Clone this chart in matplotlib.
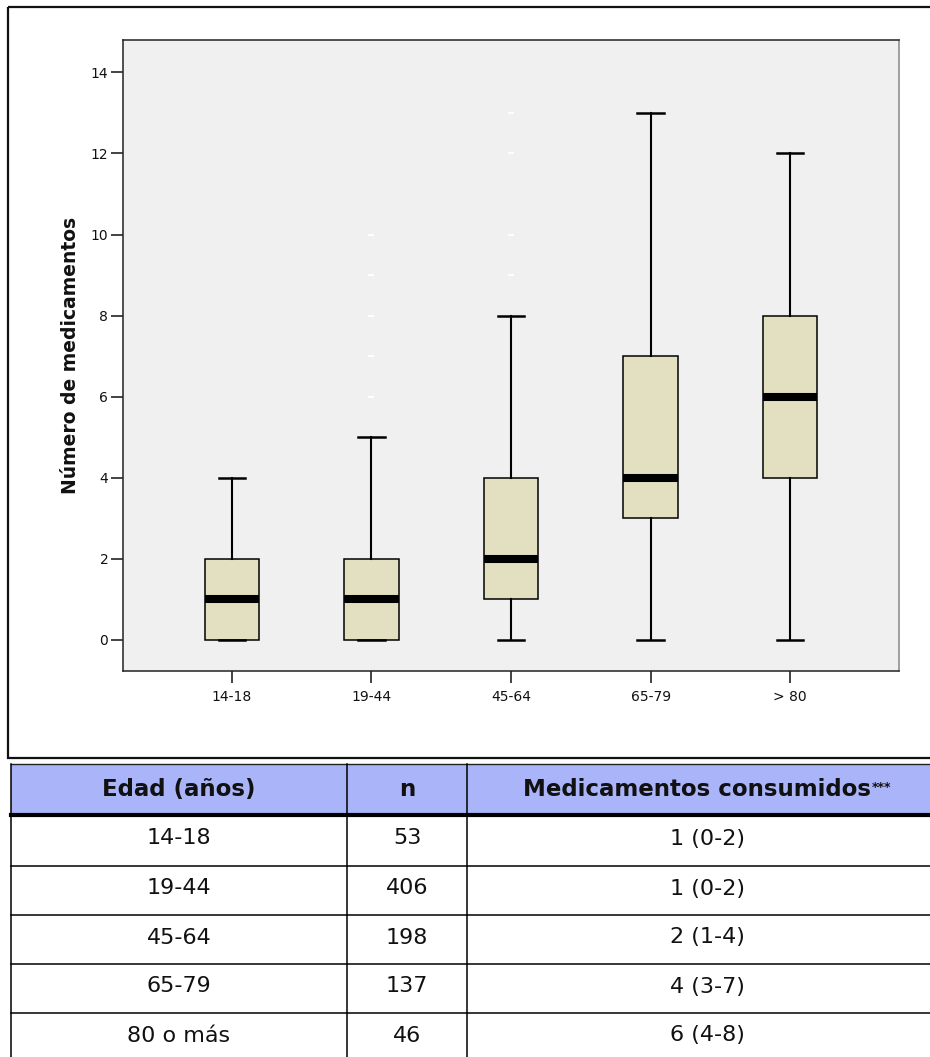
import matplotlib
matplotlib.use('Agg')
import matplotlib.pyplot as plt
from matplotlib.patches import Rectangle

# Data
grupos = ['14-18', '19-44', '45-64', '65-79', '> 80']
mediana = [1, 1, 2, 4, 6]
q1 = [0, 0, 1, 3, 4]
q3 = [2, 2, 4, 7, 8]
bigote_inf = [0, 0, 0, 0, 0]
bigote_sup = [4, 5, 8, 13, 12]
atipicos = [[], [6, 7, 8, 9, 10], [9, 10, 12, 13], [], []]

edad_tabla = ['14-18', '19-44', '45-64', '65-79', '80 o más']
n_tabla = [53, 406, 198, 137, 46]
medic_tabla = [f'{m} ({a}-{b})' for m, a, b in zip(mediana, q1, q3)]

W, H = 930, 1057
fig = plt.figure(figsize=(W / 100, H / 100), dpi=100)
fig.patch.set_facecolor('white')

# overlay in pixel coordinates for border + table
ov = fig.add_axes([0, 0, 1, 1], zorder=0)
ov.set_xlim(0, W)
ov.set_ylim(H, 0)
ov.axis('off')

# outer chart border
ov.add_patch(Rectangle((8, 7), 945, 751, fill=False, edgecolor='#111111', linewidth=1.6))

# box plot
ax = fig.add_axes([123 / W, 1 - 671 / H, 776 / W, 631 / H], zorder=1)
ax.set_facecolor('#f0f0f0')

stats = []
for i, g in enumerate(grupos):
    stats.append(dict(label=g, med=mediana[i], q1=q1[i], q3=q3[i],
                      whislo=bigote_inf[i], whishi=bigote_sup[i], fliers=atipicos[i]))

ax.bxp(stats, positions=range(1, len(grupos) + 1), widths=0.39, capwidths=0.19,
       patch_artist=True,
       boxprops=dict(facecolor='#e3dfc1', edgecolor='black', linewidth=1.1),
       medianprops=dict(color='black', linewidth=5.8, solid_capstyle='butt'),
       whiskerprops=dict(color='black', linewidth=1.5),
       capprops=dict(color='black', linewidth=1.8),
       flierprops=dict(marker='_', markeredgecolor='white', markersize=5, markeredgewidth=1.3))

ax.set_xlim(0.22, 5.78)
ax.set_ylim(-0.77, 14.8)
ax.set_yticks(range(0, 15, 2))
ax.tick_params(axis='both', length=8.6, width=1.1, color='#111111', labelsize=10,
               labelcolor='#111111')
ax.tick_params(axis='y', pad=2)
ax.tick_params(axis='x', pad=5)
for s in ['left', 'bottom', 'top']:
    ax.spines[s].set_color('#222222')
    ax.spines[s].set_linewidth(1.1)
ax.spines['right'].set_color('#888888')
ax.spines['right'].set_linewidth(1.1)

fig.text(70 / W, 1 - 355 / H, 'Número de medicamentos', rotation=90, ha='center',
         va='center', fontsize=13.5, fontweight='bold', color='#111111')

# table
x_cols = [11, 347, 467, 950]
y_rows = [764, 815, 866, 915, 964, 1013, 1062]
ov.add_patch(Rectangle((x_cols[0], y_rows[0]), x_cols[-1] - x_cols[0], y_rows[1] - y_rows[0],
                       facecolor='#aab4f8', edgecolor='none'))
ov.plot([x_cols[0], x_cols[-1]], [y_rows[0], y_rows[0]], color='#222222', lw=1.0)
ov.plot([x_cols[0], x_cols[-1]], [y_rows[1], y_rows[1]], color='black', lw=3.0)
for y in y_rows[2:-1]:
    ov.plot([x_cols[0], x_cols[-1]], [y, y], color='black', lw=1.1)
for x in x_cols[:-1]:
    ov.plot([x, x], [y_rows[0], y_rows[-1]], color='black', lw=1.1)

centros = [(x_cols[i] + x_cols[i + 1]) / 2 for i in range(3)]
centros[2] = 707
yh = (y_rows[0] + y_rows[1]) / 2
ov.text(centros[0], yh, 'Edad (años)', ha='center', va='center', fontsize=16.5,
        fontweight='bold', color='#111111')
ov.text(centros[1], yh, 'n', ha='center', va='center', fontsize=16.5,
        fontweight='bold', color='#111111')
th = ov.text(centros[2] - 10, yh, 'Medicamentos consumidos', ha='center', va='center',
             fontsize=16.5, fontweight='bold', color='#111111')
renderer = fig.canvas.get_renderer()
bb = th.get_window_extent(renderer).transformed(ov.transData.inverted())
ov.text(bb.x1 + 1, min(bb.y0, bb.y1) + 3, '***', ha='left', va='top', fontsize=9,
        fontweight='bold', color='#111111')

for i in range(len(edad_tabla)):
    yc = (y_rows[i + 1] + y_rows[i + 2]) / 2 - 2
    ov.text(centros[0], yc, edad_tabla[i], ha='center', va='center', fontsize=16, color='#111111')
    ov.text(centros[1], yc, str(n_tabla[i]), ha='center', va='center', fontsize=16, color='#111111')
    ov.text(centros[2], yc, medic_tabla[i], ha='center', va='center', fontsize=16, color='#111111')

fig.savefig('out.png', dpi=100, facecolor='white')
